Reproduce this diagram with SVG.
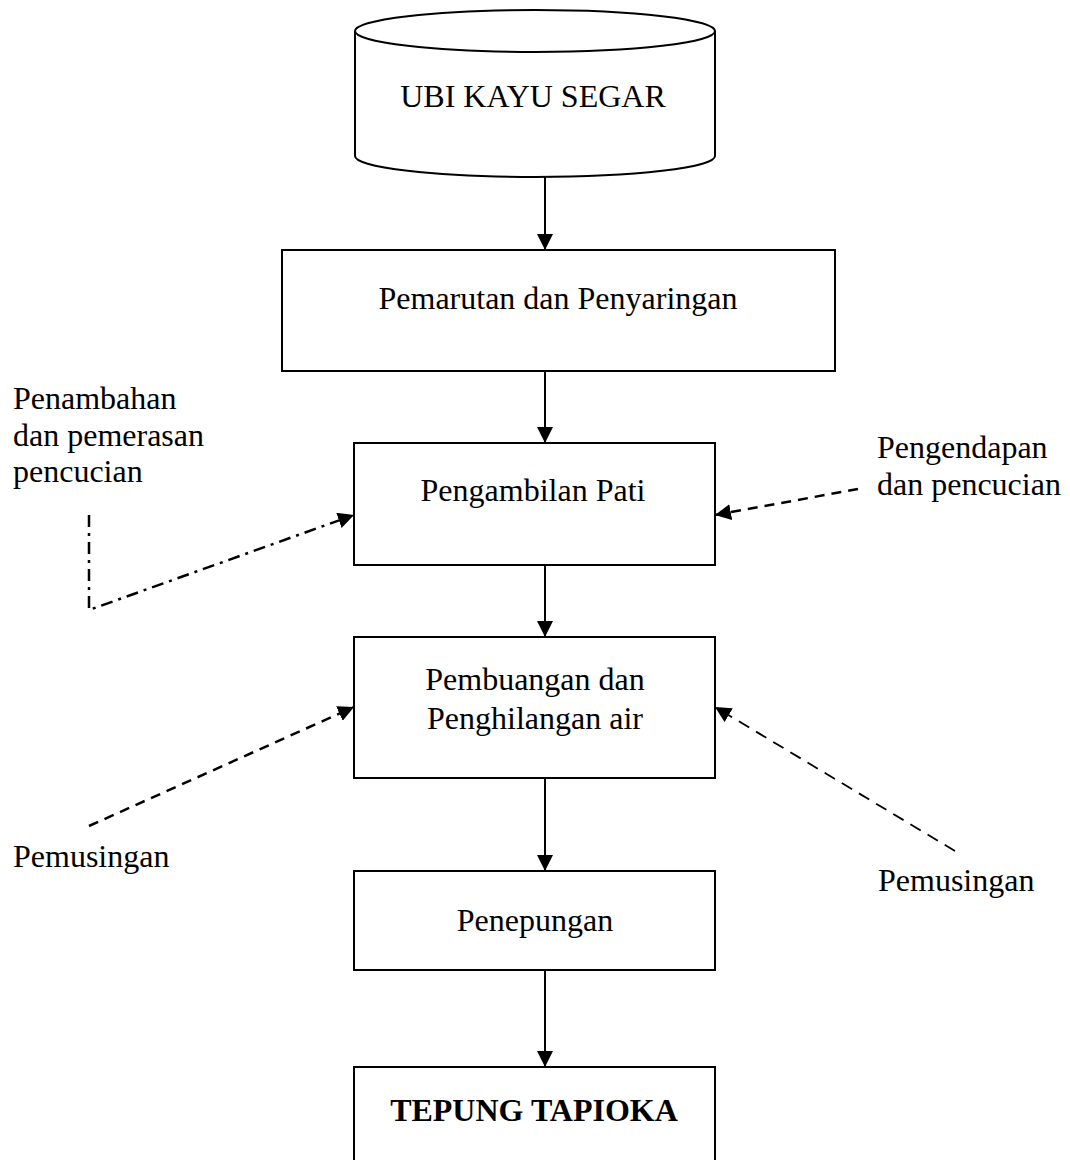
<svg xmlns="http://www.w3.org/2000/svg" width="1070" height="1160" viewBox="0 0 1070 1160">
<defs>
<style>
.box{fill:#fff;stroke:#000;stroke-width:2}
.t{font-family:"Liberation Serif","Times New Roman",serif;font-size:32px;fill:#000}
.c{text-anchor:middle}
.b{font-weight:bold}
.ln{stroke:#000;stroke-width:2;fill:none}
.dash{stroke:#000;stroke-width:2.5;fill:none;stroke-dasharray:10,7}
.dash2{stroke:#000;stroke-width:1.8;fill:none;stroke-dasharray:12,8}
.dd{stroke:#000;stroke-width:2.5;fill:none;stroke-dasharray:12,6,3,6}
</style>
<marker id="ah" viewBox="0 0 10 10" refX="10" refY="5" markerWidth="16" markerHeight="16" markerUnits="userSpaceOnUse" orient="auto">
<path d="M0,0 L10,5 L0,10 z" fill="#000"/>
</marker>
</defs>
<rect width="1070" height="1160" fill="#fff"/>
<g id="n1">
<path class="box" d="M355,31 L355,156 A180,21 0 0 0 715,156 L715,31"/>
<ellipse class="box" cx="535" cy="31" rx="180" ry="21"/>
<text class="t c" x="533" y="107">UBI KAYU SEGAR</text>
</g>
<g id="n2">
<rect class="box" x="282" y="250" width="553" height="121"/>
<text class="t c" x="558" y="309">Pemarutan dan Penyaringan</text>
</g>
<g id="n3">
<rect class="box" x="354" y="443" width="361" height="122"/>
<text class="t c" x="533" y="501">Pengambilan Pati</text>
</g>
<g id="n4">
<rect class="box" x="354" y="637" width="361" height="141"/>
<text class="t c" x="535" y="690">Pembuangan dan</text>
<text class="t c" x="535" y="729">Penghilangan air</text>
</g>
<g id="n5">
<rect class="box" x="354" y="871" width="361" height="99"/>
<text class="t c" x="535" y="931">Penepungan</text>
</g>
<g id="n6">
<rect class="box" x="354" y="1067" width="361" height="100"/>
<text class="t c b" x="534" y="1121">TEPUNG TAPIOKA</text>
</g>
<g id="labels">
<text class="t" x="13" y="409">Penambahan</text>
<text class="t" x="13" y="446">dan pemerasan</text>
<text class="t" x="13" y="482">pencucian</text>
<text class="t" x="877" y="458">Pengendapan</text>
<text class="t" x="877" y="495">dan pencucian</text>
<text class="t" x="13" y="867">Pemusingan</text>
<text class="t" x="878" y="891">Pemusingan</text>
</g>
<g id="connectors">
<line class="ln" x1="545" y1="177" x2="545" y2="250" marker-end="url(#ah)"/>
<line class="ln" x1="545" y1="371" x2="545" y2="443" marker-end="url(#ah)"/>
<line class="ln" x1="545" y1="565" x2="545" y2="637" marker-end="url(#ah)"/>
<line class="ln" x1="545" y1="778" x2="545" y2="871" marker-end="url(#ah)"/>
<line class="ln" x1="545" y1="970" x2="545" y2="1067" marker-end="url(#ah)"/>
<polyline class="dd" points="89,515 89,610 354,515" marker-end="url(#ah)"/>
<line class="dash" x1="858" y1="489" x2="715" y2="515" marker-end="url(#ah)"/>
<line class="dash" x1="89" y1="826" x2="354" y2="707" marker-end="url(#ah)"/>
<line class="dash2" x1="955" y1="851" x2="715" y2="707" marker-end="url(#ah)"/>
</g>
</svg>
